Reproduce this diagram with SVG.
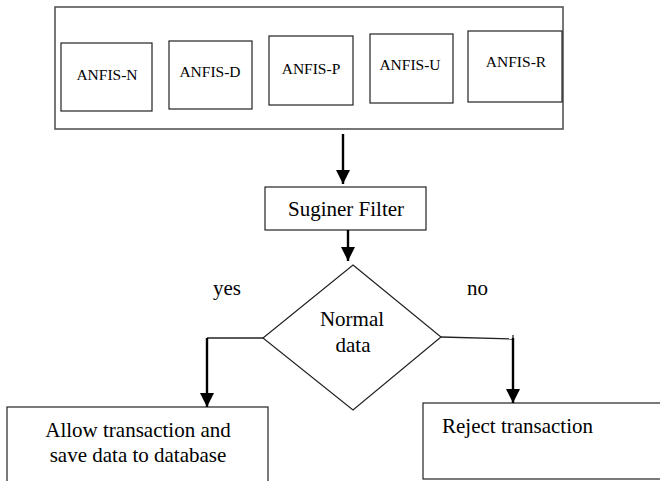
<svg xmlns="http://www.w3.org/2000/svg" width="660" height="481" viewBox="0 0 660 481">
<defs>
<style>
.box{fill:#fff;stroke:#222;stroke-width:1.2}
.outer{fill:#fff;stroke:#555;stroke-width:1.6}
.t{font-family:"Liberation Serif","Times New Roman",serif;fill:#000}
.s{font-size:15.5px;text-anchor:middle}
.m{font-size:21px}
.c{text-anchor:middle}
.thick{stroke:#000;stroke-width:2.4;fill:none}
.thin{stroke:#222;stroke-width:1.3;fill:none}
</style>
<marker id="ah" viewBox="0 0 10 10" refX="10" refY="5" markerWidth="6" markerHeight="6.2" markerUnits="strokeWidth" orient="auto">
<path d="M0,0 L10,5 L0,10 Z" fill="#000"/>
</marker>
</defs>
<rect width="660" height="481" fill="#fff"/>
<g id="container">
<rect class="outer" x="55" y="7" width="508" height="122"/>
</g>
<g id="anfis-n"><rect class="box" x="61" y="43" width="91" height="68"/><text class="t s" x="107" y="80">ANFIS-N</text></g>
<g id="anfis-d"><rect class="box" x="169" y="41" width="83" height="68"/><text class="t s" x="210" y="77">ANFIS-D</text></g>
<g id="anfis-p"><rect class="box" x="269" y="36" width="84" height="69"/><text class="t s" x="311" y="74">ANFIS-P</text></g>
<g id="anfis-u"><rect class="box" x="370" y="34" width="83" height="69"/><text class="t s" x="410" y="70">ANFIS-U</text></g>
<g id="anfis-r"><rect class="box" x="468" y="31" width="94" height="71"/><text class="t s" x="516" y="67">ANFIS-R</text></g>
<g id="suginer"><rect class="box" x="265" y="187" width="161" height="43"/><text class="t m c" x="346" y="216">Suginer Filter</text></g>
<g id="decision"><path class="box" d="M353,265 L441,337 L353,410 L263,338 Z"/><text class="t m c" x="352" y="326">Normal</text><text class="t m c" x="353" y="352">data</text></g>
<g id="allow"><rect class="box" x="7" y="407" width="261" height="90"/><text class="t m c" x="138" y="437">Allow transaction and</text><text class="t m c" x="138" y="462">save data to database</text></g>
<g id="reject"><rect class="box" x="423" y="403" width="260" height="76"/><text class="t m" x="442" y="433">Reject transaction</text></g>
<g id="labels"><text class="t m" x="213" y="295">yes</text><text class="t m" x="467" y="295">no</text></g>
<g id="connectors">
<line class="thick" x1="343" y1="134" x2="343" y2="184" marker-end="url(#ah)"/>
<line class="thick" x1="348" y1="230" x2="348" y2="261" marker-end="url(#ah)"/>
<polyline class="thin" points="263,338 207,338"/>
<line class="thick" x1="207" y1="338" x2="207" y2="407" marker-end="url(#ah)"/>
<polyline class="thin" points="441,337 513,339"/>
<line class="thin" x1="513" y1="335" x2="513" y2="340"/>
<line class="thick" x1="513" y1="338" x2="513" y2="403" marker-end="url(#ah)"/>
</g>
</svg>
